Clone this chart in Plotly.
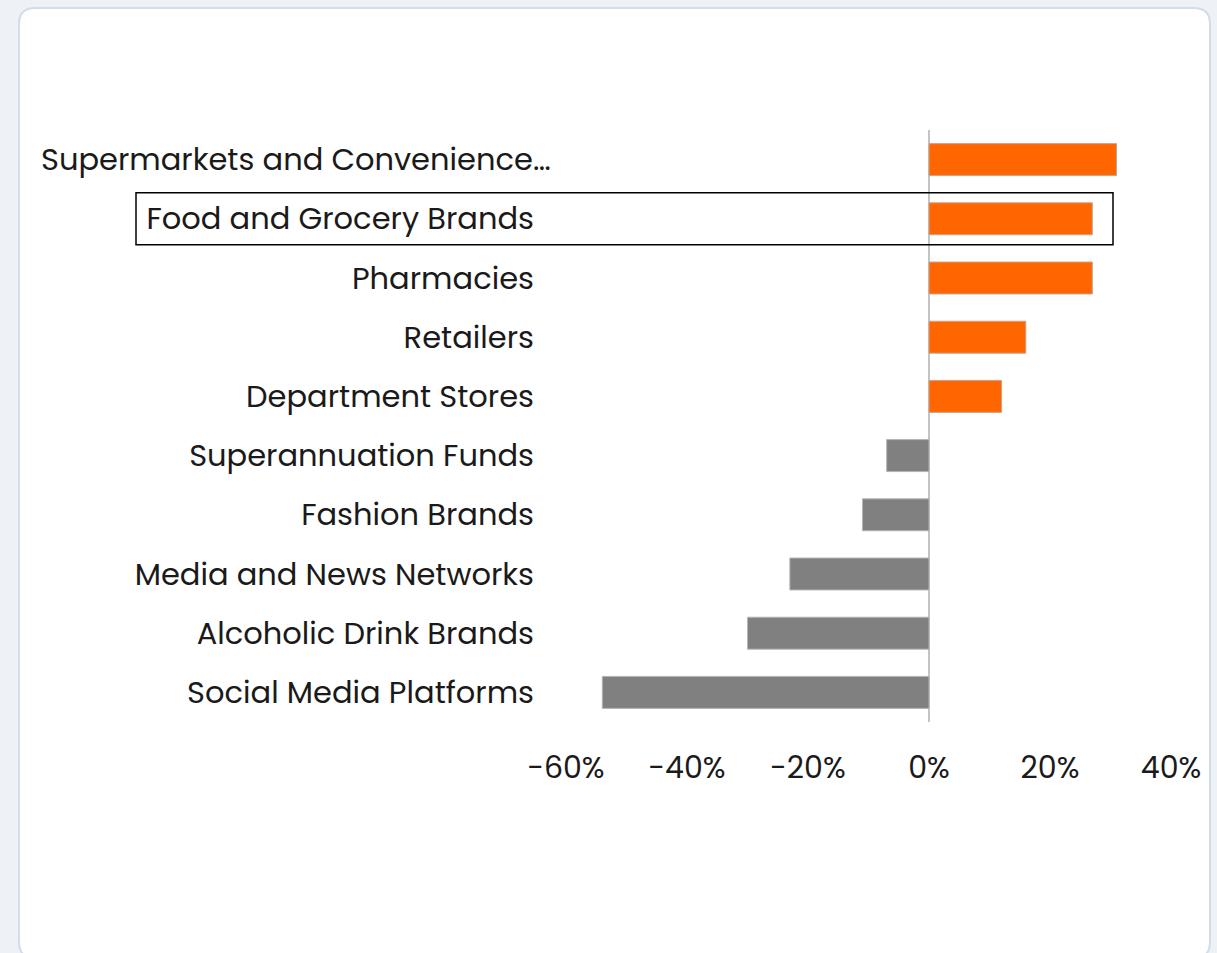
import plotly.graph_objects as go

# Net sentiment by sector (percent)
categories = [
    "Supermarkets and Convenience…",
    "Food and Grocery Brands",
    "Pharmacies",
    "Retailers",
    "Department Stores",
    "Superannuation Funds",
    "Fashion Brands",
    "Media and News Networks",
    "Alcoholic Drink Brands",
    "Social Media Platforms",
]
values = [31, 27, 27, 16, 12, -7, -11, -23, -30, -54]
x_ticks = [-60, -40, -20, 0, 20, 40]
highlighted = "Food and Grocery Brands"
truncated = "Supermarkets and Convenience…"

POS_COLOR = "#ff6600"
NEG_COLOR = "#808080"
FONT = "Poppins, Inter, 'Open Sans', sans-serif"
TEXT_COLOR = "#1a1a1a"

W, H = 1217, 953
ML, MR, MT, MB = 566, 46, 130, 231
PW, PH = W - ML - MR, H - MT - MB


def px_x(p):
    return (p - ML) / PW


def px_y(p):
    return (H - MB - p) / PH


def rounded_rect(x0, y0, x1, y1, r):
    # rounded rectangle path in paper coordinates from pixel corners
    X = lambda v: f"{px_x(v):.5f}"
    Y = lambda v: f"{px_y(v):.5f}"
    return (
        f"M{X(x0 + r)},{Y(y0)} L{X(x1 - r)},{Y(y0)} Q{X(x1)},{Y(y0)} {X(x1)},{Y(y0 + r)} "
        f"L{X(x1)},{Y(y1 - r)} Q{X(x1)},{Y(y1)} {X(x1 - r)},{Y(y1)} "
        f"L{X(x0 + r)},{Y(y1)} Q{X(x0)},{Y(y1)} {X(x0)},{Y(y1 - r)} "
        f"L{X(x0)},{Y(y0 + r)} Q{X(x0)},{Y(y0)} {X(x0 + r)},{Y(y0)} Z"
    )


colors = [POS_COLOR if v >= 0 else NEG_COLOR for v in values]
edge = ["#c9a48f" if v >= 0 else "#b5b5b5" for v in values]

fig = go.Figure(
    go.Bar(
        x=values,
        y=categories,
        orientation="h",
        marker=dict(color=colors, line=dict(color=edge, width=1)),
        hoverinfo="x+y",
    )
)

hi = categories.index(highlighted)
tr = categories.index(truncated)

# the truncated label hangs its ellipsis past the label column
tick_text = ["" if c == truncated else c for c in categories]

fig.update_layout(
    width=W,
    height=H,
    margin=dict(l=ML, r=MR, t=MT, b=MB, pad=0),
    paper_bgcolor="#eef2f6",
    plot_bgcolor="rgba(0,0,0,0)",
    bargap=0.46,
    showlegend=False,
    font=dict(family=FONT, size=30, color=TEXT_COLOR),
    xaxis=dict(
        range=[-60, 40],
        tickvals=x_ticks,
        ticktext=[f"{'-' if t < 0 else ''}{abs(t)}%" for t in x_ticks],
        showgrid=False,
        zeroline=True,
        zerolinecolor="#c4c4c4",
        zerolinewidth=2,
        showline=False,
        ticks="",
        ticklabelstandoff=25,
        tickfont=dict(size=30, color=TEXT_COLOR),
        fixedrange=True,
    ),
    yaxis=dict(
        categoryorder="array",
        categoryarray=categories,
        tickvals=categories,
        ticktext=tick_text,
        range=[len(categories) - 0.5, -0.5],
        showgrid=False,
        showline=False,
        ticks="",
        ticklabelstandoff=31,
        tickfont=dict(size=30.5, color=TEXT_COLOR),
        fixedrange=True,
    ),
    annotations=[
        dict(
            text=truncated,
            xref="paper",
            yref="y",
            x=px_x(553),
            y=tr,
            xanchor="right",
            yanchor="middle",
            showarrow=False,
            font=dict(family=FONT, size=30.5, color=TEXT_COLOR),
        )
    ],
    shapes=[
        # white card behind the chart
        dict(
            type="path",
            xref="paper",
            yref="paper",
            path=rounded_rect(19, 8, 1210, 958, 16),
            fillcolor="#ffffff",
            line=dict(color="#d3dde8", width=2),
            layer="below",
        ),
        # outline around the highlighted row
        dict(
            type="rect",
            xref="paper",
            yref="y",
            x0=px_x(136),
            x1=px_x(1113),
            y0=hi - 0.44,
            y1=hi + 0.44,
            line=dict(color="#000000", width=1.5),
            fillcolor="rgba(0,0,0,0)",
            layer="above",
        ),
    ],
)

fig.write_html("out.html")
